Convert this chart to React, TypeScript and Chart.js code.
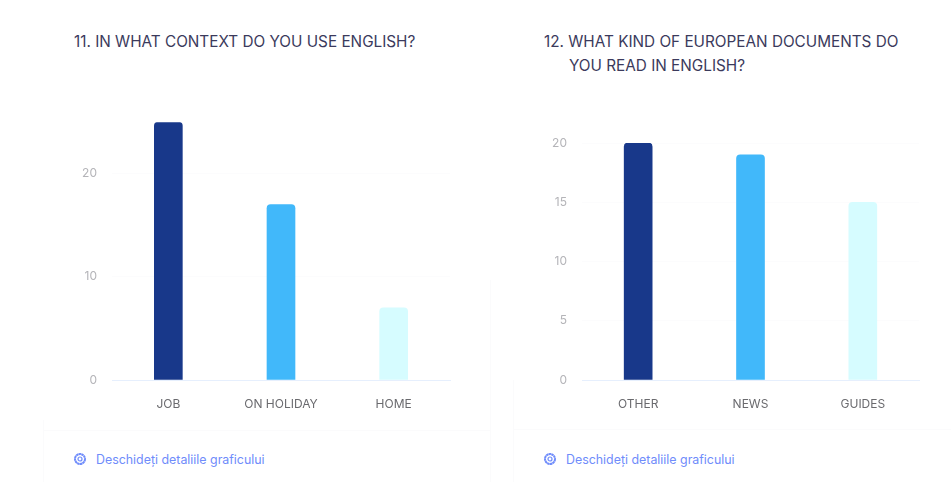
import React, { useEffect, useRef } from "react";
import { Chart, registerables } from "chart.js";

Chart.register(...registerables);

const contextLabels = ["JOB", "ON HOLIDAY", "HOME"];
const contextValues = [25, 17, 7];
const documentLabels = ["OTHER", "NEWS", "GUIDES"];
const documentValues = [20, 19, 15];
const barColors = ["#18388A", "#41B8FA", "#D6FCFF"];

const FONT = "Inter, 'Noto Sans', sans-serif";

type BarPanelProps = {
  labels: string[];
  values: number[];
  axisMax: number;
  step: number;
  left: number;
  width: number;
  paddingTop: number;
};

function BarPanel({ labels, values, axisMax, step, left, width, paddingTop }: BarPanelProps) {
  const ref = useRef<HTMLCanvasElement>(null);

  useEffect(() => {
    const chart = new Chart(ref.current as HTMLCanvasElement, {
      type: "bar",
      data: {
        labels,
        datasets: [
          {
            data: values,
            backgroundColor: barColors,
            barThickness: 28,
            borderRadius: { topLeft: 4, topRight: 4, bottomLeft: 0, bottomRight: 0 },
            borderSkipped: false,
          },
        ],
      },
      options: {
        animation: false,
        responsive: false,
        layout: { padding: { top: paddingTop, right: 20, left: 0, bottom: 0 } },
        plugins: { legend: { display: false }, tooltip: { enabled: false } },
        scales: {
          x: {
            afterFit: (scale: any) => {
              scale.height = 40;
            },
            grid: { display: false, drawTicks: false },
            border: { color: "#E6EFFD", width: 1 },
            ticks: {
              color: "#6A6A6E",
              font: { family: FONT, size: 12 },
              padding: 17,
              maxRotation: 0,
            },
          },
          y: {
            min: 0,
            max: axisMax,
            // Only whole steps are labelled; the axis may run past the last one.
            afterBuildTicks: (scale: any) => {
              scale.ticks = scale.ticks.filter((t: any) => t.value % step === 0);
            },
            afterFit: (scale: any) => {
              scale.width = 72;
            },
            grid: { color: "#FCFCFD", drawTicks: false },
            border: { display: false },
            ticks: {
              stepSize: step,
              color: "#B4B4B8",
              font: { family: FONT, size: 12 },
              padding: 15,
            },
          },
        },
      },
    });
    return () => chart.destroy();
  }, []);

  return (
    <canvas
      ref={ref}
      width={width}
      height={320}
      style={{ position: "absolute", left, top: 100, width, height: 320 }}
    />
  );
}

function DetailsLink({ left }: { left: number }) {
  return (
    <div
      style={{
        position: "absolute",
        left,
        top: 450,
        height: 18,
        display: "flex",
        alignItems: "center",
        font: `12.4px ${FONT}`,
        color: "#6F8CFB",
        whiteSpace: "nowrap",
      }}
    >
      <svg width="14" height="14" viewBox="0 0 14 14" style={{ marginRight: 9 }}>
        <circle cx="7" cy="7" r="5" fill="none" stroke="#6F8CFB" strokeWidth="2" strokeDasharray="2.4 0.3" />
        <circle cx="7" cy="7" r="2" fill="none" stroke="#6F8CFB" strokeWidth="1.2" />
      </svg>
      Deschideți detaliile graficului
    </div>
  );
}

const titleStyle: React.CSSProperties = {
  position: "absolute",
  font: `15.3px/24px ${FONT}`,
  color: "#3B3A5C",
  whiteSpace: "nowrap",
};

const ruleColor = "#FBFBFC";

export default function App() {
  return (
    <div
      style={{
        position: "absolute",
        left: 0,
        top: 0,
        width: 951,
        height: 482,
        overflow: "hidden",
        background: "#FFFFFF",
      }}
    >
      <div style={{ position: "absolute", left: 43, top: 420, width: 1, height: 62, background: ruleColor }} />
      <div style={{ position: "absolute", left: 43, top: 430, width: 448, height: 1, background: ruleColor }} />
      <div style={{ position: "absolute", left: 490, top: 280, width: 1, height: 202, background: ruleColor }} />
      <div style={{ position: "absolute", left: 513, top: 380, width: 1, height: 102, background: ruleColor }} />
      <div style={{ position: "absolute", left: 513, top: 429, width: 438, height: 1, background: ruleColor }} />

      <div style={{ ...titleStyle, left: 74, top: 30 }}>11. IN WHAT CONTEXT DO YOU USE ENGLISH?</div>
      <div style={{ ...titleStyle, left: 544, top: 30 }}>12. WHAT KIND OF EUROPEAN DOCUMENTS DO</div>
      <div style={{ ...titleStyle, left: 569, top: 54 }}>YOU READ IN ENGLISH?</div>

      <BarPanel
        labels={contextLabels}
        values={contextValues}
        axisMax={25}
        step={10}
        left={40}
        width={430}
        paddingTop={20}
      />
      <BarPanel
        labels={documentLabels}
        values={documentValues}
        axisMax={20}
        step={5}
        left={510}
        width={429}
        paddingTop={43}
      />

      <DetailsLink left={73} />
      <DetailsLink left={543} />
    </div>
  );
}
